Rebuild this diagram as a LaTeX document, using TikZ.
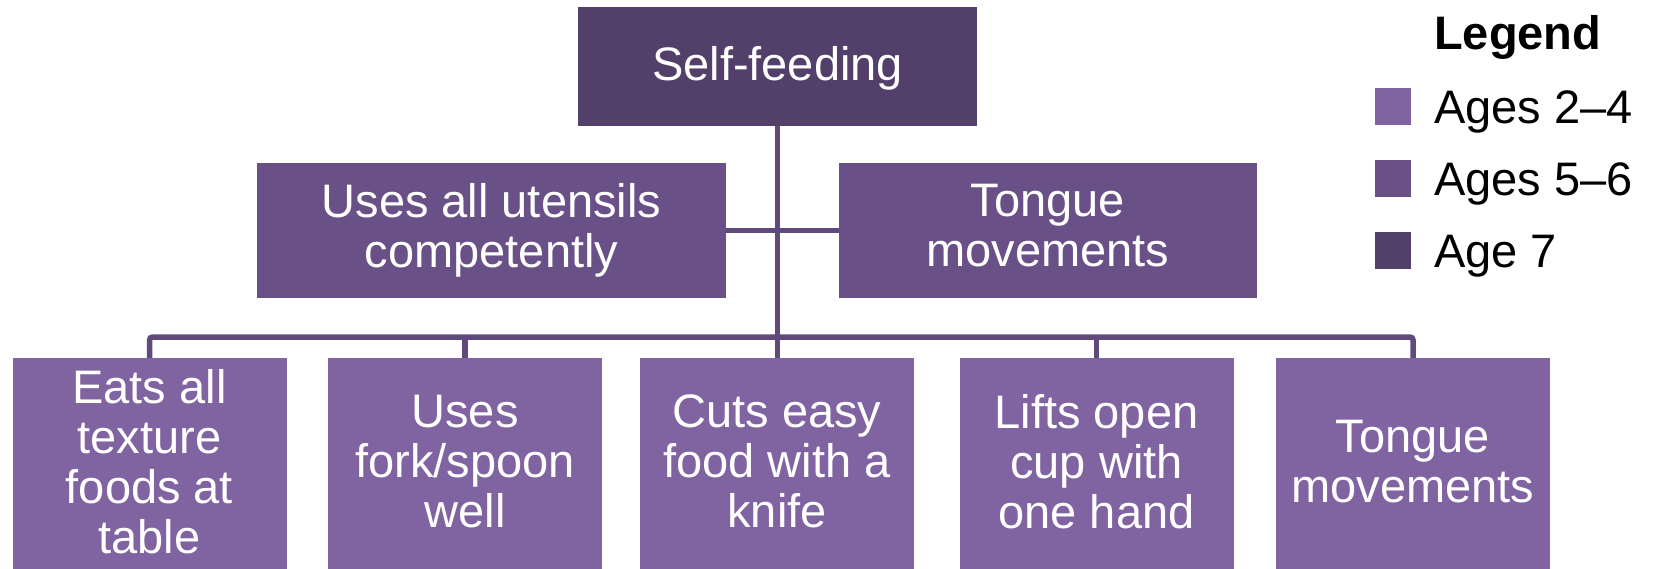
\documentclass[tikz,border=0pt]{standalone}
\usepackage{fontspec}
\setmainfont{Liberation Sans}
\definecolor{agesA}{HTML}{8064A2}
\definecolor{agesB}{HTML}{695188}
\definecolor{agesC}{HTML}{53406A}
\definecolor{linkc}{HTML}{604A7B}
\begin{document}
\begin{tikzpicture}[x=1pt,y=-1pt,
  box/.style={inner sep=0pt, align=center, text=white,
    font=\fontsize{47}{50}\selectfont,
    execute at begin node=\rule{0pt}{38pt},
    execute at end node=\rule[-10pt]{0pt}{10pt}},
  leafbox/.style={box, fill=agesA, minimum width=274pt, minimum height=216pt},
  midbox/.style={box, fill=agesB, minimum height=135pt},
  topbox/.style={box, fill=agesC, minimum width=399pt, minimum height=119pt},
  link/.style={draw=linkc, line width=5.5pt},
  swatch/.style={inner sep=0pt, minimum width=36pt, minimum height=37pt},
  legtext/.style={anchor=base west, inner sep=0pt, text=black,
    font=\fontsize{47}{50}\selectfont}]
\clip (0,0) rectangle (1653,569);
\fill[white] (0,0) rectangle (1653,569);

% root
\node[topbox] (top) at (777.5,66.5) {Self-feeding};

% second level
\node[midbox, minimum width=469pt] (m1) at (491.5,230.5) {Uses all utensils\\competently};
\node[midbox, minimum width=418pt] (m2) at (1048,230.5) {Tongue\\movements};

% third level
\node[leafbox] (b1) at (149.5,466) {Eats all\\texture\\foods at\\table};
\node[leafbox] (b2) at (465,466) {Uses\\fork/spoon\\well};
\node[leafbox] (b3) at (777,466) {Cuts easy\\food with a\\knife};
\node[leafbox] (b4) at (1096.5,466) {Lifts open\\cup with\\one hand};
\node[leafbox] (b5) at (1413,466) {Tongue\\movements};

% connectors
\coordinate (bus) at (777.5,337);
\draw[link] (top.south) -- (top.south |- b3.north);
\draw[link] (m1.east) -- (m2.west);
\draw[link, rounded corners=3pt] (b1.north) |- (bus) -| (b5.north);
\draw[link] (b2.north) -- (b2.north |- bus);
\draw[link] (b4.north) -- (b4.north |- bus);

% legend
\node[legtext, font=\fontsize{47}{50}\selectfont\bfseries] (legtitle) at (1434,50) {Legend};
\node[swatch, fill=agesA] (k1) at (1393,107) {};
\node[swatch, fill=agesB] (k2) at (1393,179) {};
\node[swatch, fill=agesC] (k3) at (1393,250.5) {};
\node[legtext] (t1) at (1434,124) {Ages 2–4};
\node[legtext] (t2) at (1434,196) {Ages 5–6};
\node[legtext] (t3) at (1434,268) {Age 7};
\end{tikzpicture}
\end{document}
